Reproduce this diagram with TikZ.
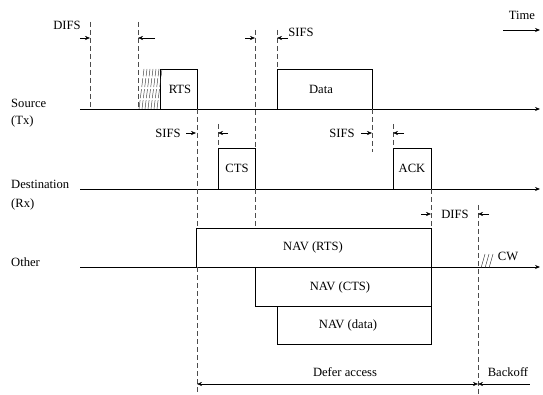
\documentclass[tikz,border=0pt]{standalone}
\usepackage{fontspec}
\setmainfont{Liberation Serif}
\usetikzlibrary{arrows.meta}

\begin{document}
\begin{tikzpicture}[x=1pt,y=-1pt,>={Stealth[length=5pt,width=4pt]},
  lbl/.style={font=\fontsize{12.6}{14}\selectfont,inner sep=0pt},
  guide/.style={black!70,dash pattern=on 5pt off 3pt},
  frame/.style={thick}]
\useasboundingbox (0,0) rectangle (543,395);

% time axes
\draw[thick,->] (80,109) -- (540,109);
\draw[thick,->] (80,189) -- (540,189);
\draw[thick,->] (80,267) -- (540,267);
\draw[thick,->] (503,30) -- (540,30);
\node[lbl] (time) at (522,15) {Time};

% station names
\node[lbl,anchor=west] (src) at (11,103) {Source};
\node[lbl,anchor=west] (srctx) at (11,121) {(Tx)};
\node[lbl,anchor=west] (dst) at (11,184) {Destination};
\node[lbl,anchor=west] (dstrx) at (11,204) {(Rx)};
\node[lbl,anchor=west] (oth) at (11,262) {Other};

% frames
\draw[frame] (160,109) -- (160,69) -- (197,69) -- (197,109);
\node[lbl] (rts) at (180,89) {RTS};
\draw[frame] (277,109) -- (277,69) -- (372,69) -- (372,109);
\node[lbl] (data) at (321,89) {Data};
\draw[frame] (218,189) -- (218,148) -- (255,148) -- (255,189);
\node[lbl] (cts) at (237,168) {CTS};
\draw[frame] (393,189) -- (393,148) -- (431,148) -- (431,189);
\node[lbl] (ack) at (412,168) {ACK};

% NAV boxes
\draw[frame] (196,267) -- (196,228) -- (431,228) -- (431,267);
\node[lbl] (navrts) at (313,247) {NAV (RTS)};
\draw[frame] (255,267) -- (255,306) -- (431,306) -- (431,267);
\node[lbl] (navcts) at (340,287) {NAV (CTS)};
\draw[frame] (277,306) -- (277,344) -- (431,344) -- (431,306);
\node[lbl] (navdata) at (348,325) {NAV (data)};

% backoff slots
\foreach \x in {139,142,...,157}
  \draw[black!85,dash pattern=on 9pt off 2pt] (\x,109) -- (\x+5,69);
\foreach \x in {481,485,489}
  \draw[black!85] (\x,268) -- (\x+4,254);
\node[lbl] (cw) at (508,256) {CW};

% dashed guides
\draw[guide] (90,22) -- (90,109);
\draw[guide] (138,22) -- (138,109);
\draw[guide] (197,109) -- (197,228);
\draw[guide] (197,267) -- (197,392);
\draw[guide] (218,124) -- (218,148);
\draw[guide] (255,30) -- (255,148);
\draw[guide] (255,189) -- (255,228);
\draw[guide] (277,30) -- (277,69);
\draw[guide] (372,109) -- (372,152);
\draw[guide] (393,124) -- (393,148);
\draw[guide] (431,189) -- (431,228);
\draw[guide] (478,205) -- (478,395);

% interframe spaces
\node[lbl] (difsa) at (67,25) {DIFS};
\draw[->] (80,38) -- (90,38);
\draw[->] (155,38) -- (138,38);
\node[lbl] (sifsa) at (301,32) {SIFS};
\draw[->] (245,38) -- (255,38);
\draw[->] (288,38) -- (277,38);
\node[lbl] (sifsb) at (168,133) {SIFS};
\draw[->] (186,133) -- (196,133);
\draw[->] (228,133) -- (218,133);
\node[lbl] (sifsc) at (342,133) {SIFS};
\draw[->] (361,133) -- (372,133);
\draw[->] (404,133) -- (393,133);
\node[lbl] (difsb) at (455,214) {DIFS};
\draw[->] (421,214) -- (431,214);
\draw[->] (489,214) -- (478,214);

% defer and backoff
\draw[<->] (197,384) -- (478,384);
\draw[<-] (478,384) -- (530,384);
\node[lbl] (defer) at (345,372) {Defer access};
\node[lbl] (boff) at (508,372) {Backoff};

\end{tikzpicture}
\end{document}
